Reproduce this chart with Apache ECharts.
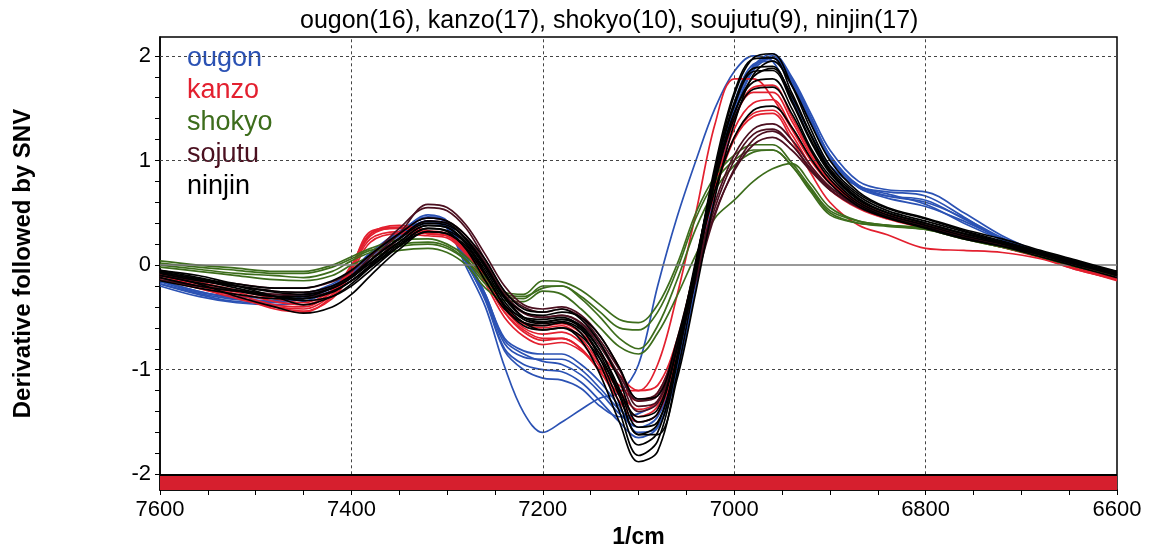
<!DOCTYPE html>
<html>
<head>
<meta charset="utf-8">
<script src="https://cdn.jsdelivr.net/npm/echarts@6/dist/echarts.min.js"></script>
<style>
  html, body { margin: 0; padding: 0; background: #fff; }
  #chart { width: 1150px; height: 548px; }
</style>
</head>
<body>
<div id="chart"></div>
<script>
// wavenumbers (1/cm) shared by every spectrum
const wn = [7600,7560,7520,7480,7450,7420,7400,7380,7350,7320,7300,7280,7260,7240,7220,7200,7180,7160,7140,7120,7100,7080,7060,7040,7020,7000,6980,6960,6940,6920,6900,6870,6840,6800,6760,6720,6680,6640,6600]

const groups = ["ougon", "kanzo", "shokyo", "sojutu", "ninjin"]
const groupColors = ["#2b52b4", "#e3202f", "#3d6d1c", "#4b1020", "#000000"]

const ougon = [
  [-0.15,-0.25,-0.32,-0.35,-0.32,-0.22,-0.1,0.08,0.3,0.42,0.35,-0.02,-0.4,-0.97,-1.41,-1.6,-1.5,-1.38,-1.27,-1.22,-0.95,-0.2,0.45,1.0,1.5,1.85,2.0,1.95,1.6,1.25,0.95,0.75,0.7,0.66,0.46,0.24,0.1,-0.02,-0.14],
  [-0.18,-0.28,-0.35,-0.36,-0.32,-0.2,-0.08,0.1,0.32,0.45,0.4,0.05,-0.3,-0.75,-0.88,-0.9,-0.9,-1.0,-1.18,-1.38,-1.5,-1.42,-0.95,-0.1,0.8,1.5,1.9,2.02,1.8,1.45,1.1,0.8,0.72,0.7,0.5,0.28,0.12,0.0,-0.13],
  [-0.15,-0.25,-0.32,-0.34,-0.3,-0.2,-0.08,0.1,0.3,0.48,0.42,0.08,-0.28,-0.7,-0.82,-0.85,-0.85,-0.95,-1.12,-1.35,-1.6,-1.55,-1.05,-0.2,0.7,1.42,1.88,2.0,1.78,1.42,1.05,0.76,0.66,0.6,0.45,0.26,0.12,0.0,-0.12],
  [-0.2,-0.3,-0.36,-0.38,-0.35,-0.24,-0.12,0.05,0.25,0.4,0.36,0.02,-0.32,-0.8,-0.95,-1.0,-1.02,-1.12,-1.3,-1.5,-1.65,-1.55,-1.0,-0.12,0.75,1.45,1.86,1.98,1.76,1.4,1.05,0.76,0.68,0.58,0.4,0.24,0.1,-0.02,-0.14],
  [-0.16,-0.26,-0.3,-0.32,-0.28,-0.18,-0.06,0.12,0.32,0.46,0.42,0.06,-0.28,-0.72,-0.85,-0.92,-0.95,-1.05,-1.22,-1.42,-1.55,-1.45,-0.95,-0.1,0.8,1.5,1.9,1.98,1.74,1.38,1.02,0.74,0.64,0.56,0.42,0.25,0.11,0.0,-0.12],
  [-0.18,-0.27,-0.33,-0.35,-0.32,-0.22,-0.1,0.08,0.28,0.42,0.38,0.03,-0.34,-0.82,-1.0,-1.08,-1.1,-1.18,-1.35,-1.45,-1.42,-1.3,-0.85,-0.05,0.85,1.55,1.92,1.95,1.72,1.36,1.02,0.74,0.66,0.62,0.44,0.25,0.1,-0.01,-0.13]
]

const kanzo = [
  [-0.1,-0.2,-0.3,-0.42,-0.45,-0.3,-0.05,0.3,0.38,0.33,0.3,0.15,-0.12,-0.42,-0.6,-0.66,-0.64,-0.74,-0.98,-1.25,-1.45,-1.35,-0.85,-0.05,0.8,1.4,1.65,1.65,1.38,1.05,0.8,0.6,0.48,0.38,0.28,0.18,0.08,-0.04,-0.14],
  [-0.12,-0.22,-0.32,-0.4,-0.42,-0.28,-0.02,0.32,0.36,0.3,0.28,0.12,-0.15,-0.45,-0.62,-0.7,-0.7,-0.8,-1.02,-1.2,-1.2,-0.95,-0.3,0.5,1.35,1.78,1.78,1.6,1.3,1.0,0.78,0.58,0.46,0.36,0.26,0.17,0.08,-0.04,-0.14],
  [-0.08,-0.18,-0.28,-0.38,-0.4,-0.25,0.0,0.3,0.35,0.3,0.28,0.14,-0.12,-0.4,-0.55,-0.58,-0.56,-0.65,-0.85,-1.05,-1.2,-1.15,-0.72,0.0,0.7,1.2,1.42,1.45,1.2,0.88,0.6,0.38,0.29,0.16,0.14,0.12,0.06,-0.05,-0.14],
  [-0.1,-0.18,-0.26,-0.35,-0.38,-0.26,-0.04,0.25,0.32,0.3,0.28,0.12,-0.14,-0.45,-0.64,-0.72,-0.7,-0.8,-1.02,-1.3,-1.5,-1.42,-0.88,-0.05,0.75,1.3,1.55,1.58,1.32,1.02,0.78,0.58,0.47,0.37,0.27,0.18,0.08,-0.04,-0.15],
  [-0.14,-0.22,-0.3,-0.4,-0.44,-0.32,-0.08,0.22,0.3,0.28,0.26,0.1,-0.18,-0.5,-0.68,-0.76,-0.74,-0.82,-1.0,-1.15,-1.3,-1.22,-0.75,0.0,0.72,1.22,1.45,1.48,1.25,0.95,0.72,0.54,0.44,0.35,0.26,0.17,0.07,-0.05,-0.13],
  [-0.08,-0.16,-0.24,-0.32,-0.36,-0.24,-0.02,0.28,0.36,0.32,0.3,0.16,-0.1,-0.4,-0.56,-0.6,-0.58,-0.7,-0.95,-1.2,-1.38,-1.3,-0.8,0.0,0.8,1.38,1.7,1.72,1.42,1.08,0.82,0.6,0.48,0.38,0.28,0.18,0.08,-0.03,-0.12]
]

const shokyo = [
  [0.02,-0.02,-0.05,-0.08,-0.08,-0.02,0.06,0.14,0.2,0.22,0.18,0.05,-0.15,-0.28,-0.3,-0.22,-0.2,-0.3,-0.45,-0.6,-0.62,-0.45,-0.05,0.45,0.8,1.0,1.1,1.1,0.95,0.72,0.5,0.4,0.38,0.35,0.26,0.18,0.08,-0.02,-0.1],
  [0.0,-0.04,-0.08,-0.1,-0.12,-0.06,0.04,0.12,0.18,0.2,0.16,0.04,-0.18,-0.3,-0.32,-0.2,-0.2,-0.32,-0.5,-0.7,-0.8,-0.58,-0.15,0.35,0.72,0.95,1.08,1.1,0.95,0.7,0.48,0.4,0.37,0.34,0.25,0.17,0.08,-0.02,-0.1],
  [0.04,0.0,-0.03,-0.06,-0.06,0.0,0.08,0.16,0.24,0.25,0.2,0.08,-0.12,-0.26,-0.28,-0.15,-0.16,-0.24,-0.38,-0.52,-0.55,-0.38,0.0,0.5,0.85,1.05,1.15,1.15,0.98,0.74,0.52,0.42,0.38,0.35,0.26,0.18,0.08,-0.02,-0.1],
  [-0.02,-0.06,-0.1,-0.14,-0.15,-0.1,0.0,0.08,0.14,0.16,0.12,0.0,-0.22,-0.34,-0.35,-0.25,-0.28,-0.42,-0.6,-0.78,-0.85,-0.65,-0.3,0.1,0.45,0.62,0.8,0.92,0.97,0.78,0.55,0.42,0.38,0.34,0.25,0.17,0.08,-0.02,-0.1]
]

const sojutu = [
  [-0.1,-0.15,-0.2,-0.25,-0.26,-0.2,-0.1,0.08,0.35,0.55,0.52,0.35,0.05,-0.25,-0.4,-0.45,-0.42,-0.5,-0.72,-1.0,-1.28,-1.22,-0.75,-0.1,0.5,0.9,1.15,1.22,1.1,0.9,0.72,0.56,0.46,0.38,0.28,0.2,0.1,0.0,-0.1],
  [-0.12,-0.2,-0.25,-0.28,-0.28,-0.22,-0.12,0.05,0.3,0.58,0.55,0.38,0.1,-0.2,-0.38,-0.42,-0.4,-0.48,-0.68,-0.98,-1.35,-1.3,-0.82,-0.15,0.48,0.92,1.2,1.28,1.15,0.92,0.74,0.58,0.47,0.38,0.28,0.2,0.1,0.0,-0.1],
  [-0.08,-0.14,-0.18,-0.22,-0.22,-0.16,-0.06,0.1,0.3,0.45,0.42,0.28,0.02,-0.28,-0.45,-0.5,-0.48,-0.55,-0.75,-1.05,-1.3,-1.25,-0.78,-0.08,0.55,1.0,1.25,1.3,1.15,0.92,0.72,0.55,0.45,0.36,0.26,0.19,0.1,0.0,-0.09],
  [-0.14,-0.2,-0.24,-0.28,-0.3,-0.25,-0.15,0.0,0.25,0.42,0.4,0.25,0.0,-0.3,-0.46,-0.5,-0.48,-0.56,-0.78,-1.08,-1.4,-1.32,-0.8,-0.05,0.6,1.05,1.3,1.35,1.2,0.95,0.75,0.56,0.45,0.37,0.27,0.19,0.1,0.0,-0.1]
]

const ninjin = [
  [-0.05,-0.12,-0.2,-0.3,-0.38,-0.3,-0.18,-0.02,0.2,0.35,0.32,0.15,-0.15,-0.42,-0.55,-0.58,-0.55,-0.65,-0.95,-1.4,-1.82,-1.68,-0.95,0.0,0.95,1.65,1.97,1.98,1.65,1.25,0.92,0.66,0.52,0.42,0.32,0.22,0.12,0.02,-0.08],
  [-0.1,-0.18,-0.3,-0.4,-0.46,-0.4,-0.28,-0.1,0.15,0.32,0.3,0.18,-0.08,-0.38,-0.5,-0.52,-0.5,-0.6,-0.9,-1.32,-1.72,-1.6,-0.9,0.02,0.9,1.55,1.88,1.9,1.58,1.2,0.9,0.64,0.5,0.4,0.3,0.22,0.12,0.02,-0.1],
  [-0.05,-0.1,-0.18,-0.22,-0.22,-0.15,-0.05,0.1,0.3,0.45,0.42,0.28,0.05,-0.25,-0.42,-0.45,-0.42,-0.52,-0.75,-1.1,-1.5,-1.42,-0.8,0.05,0.85,1.45,1.75,1.78,1.5,1.12,0.85,0.6,0.48,0.38,0.28,0.2,0.1,0.0,-0.06],
  [-0.12,-0.2,-0.25,-0.3,-0.3,-0.22,-0.12,0.02,0.22,0.38,0.36,0.22,-0.02,-0.3,-0.45,-0.48,-0.45,-0.5,-0.68,-0.98,-1.28,-1.25,-0.72,0.0,0.72,1.22,1.48,1.52,1.32,1.02,0.78,0.56,0.45,0.35,0.25,0.18,0.1,0.0,-0.1],
  [-0.08,-0.15,-0.2,-0.25,-0.26,-0.2,-0.1,0.05,0.25,0.4,0.38,0.25,0.0,-0.3,-0.5,-0.55,-0.52,-0.58,-0.82,-1.22,-1.62,-1.62,-1.1,-0.25,0.65,1.35,1.82,1.95,1.72,1.35,1.0,0.7,0.55,0.45,0.34,0.25,0.14,0.04,-0.06],
  [-0.15,-0.22,-0.28,-0.32,-0.32,-0.25,-0.15,-0.02,0.18,0.32,0.3,0.16,-0.1,-0.38,-0.55,-0.62,-0.6,-0.68,-0.9,-1.2,-1.45,-1.38,-0.8,0.0,0.8,1.4,1.68,1.7,1.45,1.1,0.82,0.58,0.46,0.36,0.26,0.18,0.08,-0.02,-0.12],
  [-0.06,-0.14,-0.22,-0.3,-0.34,-0.3,-0.2,-0.05,0.18,0.35,0.33,0.2,-0.08,-0.4,-0.58,-0.62,-0.6,-0.72,-1.05,-1.5,-1.88,-1.78,-1.05,-0.1,0.9,1.62,1.98,2.02,1.72,1.3,0.95,0.68,0.54,0.44,0.33,0.23,0.13,0.03,-0.07],
  [-0.1,-0.17,-0.24,-0.3,-0.32,-0.26,-0.15,0.0,0.22,0.38,0.36,0.2,-0.05,-0.35,-0.52,-0.56,-0.54,-0.62,-0.86,-1.25,-1.62,-1.52,-0.88,0.02,0.88,1.52,1.85,1.86,1.56,1.18,0.88,0.62,0.5,0.4,0.3,0.21,0.11,0.01,-0.09],
  [-0.07,-0.13,-0.2,-0.26,-0.28,-0.22,-0.12,0.04,0.26,0.42,0.4,0.24,-0.02,-0.32,-0.5,-0.54,-0.52,-0.6,-0.82,-1.18,-1.55,-1.5,-0.9,-0.05,0.8,1.45,1.8,1.88,1.62,1.24,0.9,0.63,0.5,0.4,0.3,0.21,0.11,0.01,-0.08]
]

const spectra = [ougon, kanzo, shokyo, sojutu, ninjin]

const yLabels = [-2, -1, 0, 1, 2]
const yTickValues = [-2,-1.8,-1.6,-1.4,-1.2,-1,-0.8,-0.6,-0.4,-0.2,0,0.2,0.4,0.6,0.8,1,1.2,1.4,1.6,1.8,2]
const yDashed = [2, 1, -1]
const xLabels = [6600, 6800, 7000, 7200, 7400, 7600]
const xTickValues = [6600,6650,6700,6750,6800,6850,6900,6950,7000,7050,7100,7150,7200,7250,7300,7350,7400,7450,7500,7550,7600]
const xDashed = [6800, 7000, 7200, 7400]

let series = []

// background: red band at the bottom and the grid lines
series.push({
  type: "line",
  name: "_bg",
  data: [],
  silent: true,
  z: 1,
  markArea: {
    silent: true,
    itemStyle: {color: "#d61f2e"},
    data: [[{xAxis: 7600, yAxis: -2.15}, {xAxis: 6600, yAxis: -2}]]
  },
  markLine: {
    silent: true,
    symbol: "none",
    label: {show: false},
    data: yDashed.map(v => ({yAxis: v, lineStyle: {type: [3, 3], color: "#444", width: 1}}))
      .concat(xDashed.map(v => [{coord: [v, -2], lineStyle: {type: [3, 3], color: "#444", width: 1}}, {coord: [v, 2.18]}]))
      .concat([
        {yAxis: 0, lineStyle: {type: "solid", color: "#777", width: 1.5}},
        {yAxis: -2, lineStyle: {type: "solid", color: "#000", width: 2}}
      ])
  }
})

groups.forEach((g, gi) => {
  spectra[gi].forEach(vals => {
    series.push({
      type: "line",
      name: g,
      data: vals.map((v, i) => [wn[i], v]),
      symbol: "none",
      smooth: 0.35,
      color: groupColors[gi],
      lineStyle: {width: 1.7, color: groupColors[gi]},
      z: 2 + gi
    })
  })
})

let option = {
  backgroundColor: "#fff",
  animation: false,
  title: {
    text: "ougon(16), kanzo(17), shokyo(10), soujutu(9), ninjin(17)",
    left: 295,
    top: 4,
    textStyle: {fontFamily: "Liberation Sans", fontWeight: "normal", fontSize: 25, color: "#000"}
  },
  legend: {
    orient: "vertical",
    left: 177,
    top: 40,
    icon: "none",
    itemWidth: 0,
    itemGap: 5,
    selectedMode: false,
    textStyle: {fontFamily: "Liberation Sans", fontSize: 27, padding: 0},
    data: groups.map((g, i) => ({name: g, textStyle: {color: groupColors[i]}}))
  },
  grid: {
    left: 160, right: 33, top: 37, bottom: 58,
    outerBoundsMode: "none",
    show: true, borderColor: "#000", borderWidth: 1.5
  },
  xAxis: {
    type: "value",
    inverse: true,
    min: 6600,
    max: 7600,
    interval: 200,
    name: "1/cm",
    nameLocation: "middle",
    nameGap: 35,
    nameTextStyle: {fontFamily: "Liberation Sans", fontWeight: "bold", fontSize: 23, color: "#000"},
    axisLine: {show: true, onZero: false, lineStyle: {color: "#000", width: 1.5}},
    axisTick: {show: true, length: 5, customValues: xTickValues, lineStyle: {color: "#000"}},
    axisLabel: {fontFamily: "Liberation Sans", fontSize: 22, color: "#000", margin: 9, customValues: xLabels, formatter: v => String(v)},
    splitLine: {show: false}
  },
  yAxis: {
    type: "value",
    min: -2.15,
    max: 2.18,
    name: "Derivative followed by SNV",
    nameLocation: "middle",
    nameRotate: 90,
    nameGap: 125,
    nameTextStyle: {fontFamily: "Liberation Sans", fontWeight: "bold", fontSize: 24, color: "#000"},
    axisLine: {show: true, onZero: false, lineStyle: {color: "#000", width: 1.5}},
    axisTick: {show: true, length: 5, customValues: yTickValues, lineStyle: {color: "#000"}},
    axisLabel: {fontFamily: "Liberation Sans", fontSize: 22, color: "#000", margin: 9, customValues: yLabels},
    splitLine: {show: false}
  },
  series: series
}

let myChart = echarts.init(document.getElementById("chart"))
myChart.setOption(option)
</script>
</body>
</html>
